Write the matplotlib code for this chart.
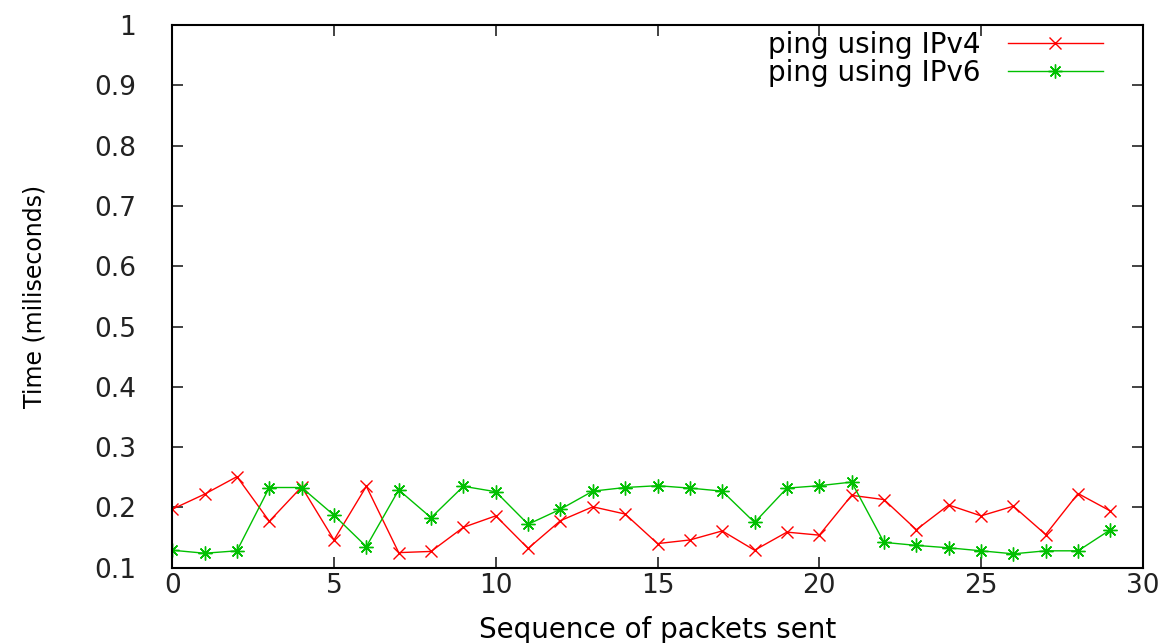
import numpy as np
import matplotlib.pyplot as plt

seq = list(range(30))
ipv4 = [0.197, 0.222, 0.251, 0.177, 0.234, 0.146, 0.235, 0.125, 0.127, 0.167,
        0.186, 0.132, 0.178, 0.201, 0.189, 0.140, 0.146, 0.161, 0.129, 0.159,
        0.154, 0.220, 0.213, 0.163, 0.204, 0.186, 0.202, 0.155, 0.223, 0.194]
ipv6 = [0.129, 0.124, 0.128, 0.233, 0.233, 0.187, 0.135, 0.229, 0.183, 0.235,
        0.226, 0.172, 0.197, 0.227, 0.233, 0.236, 0.232, 0.227, 0.175, 0.232,
        0.236, 0.242, 0.142, 0.137, 0.133, 0.128, 0.123, 0.128, 0.128, 0.163]
xticks = [0, 5, 10, 15, 20, 25, 30]
yticks = [0.1, 0.2, 0.3, 0.4, 0.5, 0.6, 0.7, 0.8, 0.9, 1.0]
ylabels = ["0.1", "0.2", "0.3", "0.4", "0.5", "0.6", "0.7", "0.8", "0.9", "1"]

plt.rcParams['font.family'] = ['DejaVu Sans']

fig = plt.figure(figsize=(11.71, 6.43), dpi=100)
ax = fig.add_axes([0.1471, 0.1171, 0.8288, 0.8440])

ax.plot(seq, ipv4, color='#ff0000', lw=1.0, marker='x', ms=9, mew=1.0,
        label='ping using IPv4')
ax.plot(seq, ipv6, color='#00c000', lw=1.0, marker=(8, 2, 0), ms=10, mew=1.0,
        label='ping using IPv6')

ax.set_xlim(0, 30)
ax.set_ylim(0.1, 1.0)
ax.set_xticks(xticks)
ax.set_yticks(yticks)
ax.set_yticklabels(ylabels)
ax.tick_params(direction='in', length=8, width=1.2, top=True, right=True,
               labelsize=19, colors='#222222')
ax.tick_params(axis='y', pad=26)
ax.tick_params(axis='x', pad=4)
for s in ax.spines.values():
    s.set_linewidth(1.5)

ax.set_xlabel('Sequence of packets sent', fontsize=20, labelpad=12)
ax.set_ylabel('Time (miliseconds)', fontsize=17, labelpad=34)

ax.legend(loc='upper right', frameon=False, markerfirst=False, fontsize=20,
          handlelength=3.4, handletextpad=1.0, labelspacing=0.0,
          borderaxespad=0.0, bbox_to_anchor=(0.970, 1.01))

fig.savefig('out.png', dpi=100)
